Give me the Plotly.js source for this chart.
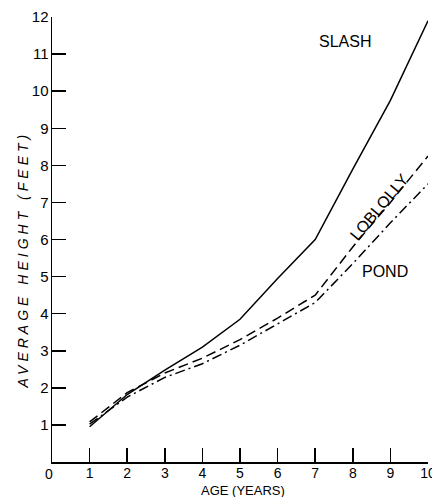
<!DOCTYPE html>
<html>
<head>
<meta charset="utf-8">
<script src="https://cdn.plot.ly/plotly-3.0.1.min.js"></script>
<style>
html,body{margin:0;padding:0;background:#fff;}
#chart{width:432px;height:497px;}
</style>
</head>
<body>
<div id="chart"></div>
<script>
const ages = [1, 2, 3, 4, 5, 6, 7, 8, 9, 10];
const slash = [0.95, 1.82, 2.48, 3.1, 3.85, 4.95, 6.0, 7.9, 9.75, 11.9];
const loblolly = [1.08, 1.87, 2.4, 2.8, 3.3, 3.88, 4.5, 5.8, 7.0, 8.25];
const pond = [1.02, 1.75, 2.28, 2.65, 3.15, 3.72, 4.3, 5.35, 6.45, 7.5];
const xTicks = [1, 2, 3, 4, 5, 6, 7, 8, 9, 10];
const yTicks = [1, 2, 3, 4, 5, 6, 7, 8, 9, 10, 11, 12];
const seriesNames = ['SLASH', 'LOBLOLLY', 'POND'];
const xTitle = 'AGE (YEARS)';
const yTitle = 'AVERAGE HEIGHT (FEET)';

const FONT = '"Liberation Sans Narrow", "Liberation Sans", Arial, sans-serif';

const traces = [
  {x: ages, y: slash, name: seriesNames[0], mode: 'lines', line: {color: '#000', width: 1.5}},
  {x: ages, y: loblolly, name: seriesNames[1], mode: 'lines', line: {color: '#000', width: 1.5, dash: '10px,5px'}},
  {x: ages, y: pond, name: seriesNames[2], mode: 'lines', line: {color: '#000', width: 1.5, dash: '10px,4px,2px,4px'}}
];

const layout = {
  width: 432, height: 497,
  margin: {l: 52, r: 4, t: 17, b: 35},
  paper_bgcolor: '#fff', plot_bgcolor: '#fff',
  showlegend: false,
  font: {family: FONT, color: '#000', size: 15},
  xaxis: {
    range: [0, 10], tickvals: xTicks, ticktext: xTicks.map(String),
    ticks: 'inside', ticklen: 14, tickwidth: 1.5, tickcolor: '#000',
    showline: true, linecolor: '#000', linewidth: 1.5,
    showgrid: false, zeroline: false, ticklabeloverflow: 'allow',
    ticklabelstandoff: -2,
    tickfont: {family: FONT, size: 14}
  },
  yaxis: {
    range: [0, 12], tickvals: yTicks, ticktext: yTicks.map(String),
    ticks: 'inside', ticklen: 14, tickwidth: 1.5, tickcolor: '#000',
    showline: true, linecolor: '#000', linewidth: 1.5,
    showgrid: false, zeroline: false, ticklabeloverflow: 'allow',
    ticklabelstandoff: -1,
    tickfont: {family: FONT, size: 15}
  },
  annotations: [
    {x: -0.024, y: 0, xref: 'paper', yref: 'paper', text: '0', showarrow: false, yanchor: 'top', yshift: -2, font: {family: FONT, size: 14}},
    {x: 0.508, y: 0, xref: 'paper', yref: 'paper', text: xTitle, showarrow: false, yanchor: 'middle', yshift: -28, font: {family: FONT, size: 13}},
    {x: -0.105, y: 0.454, xref: 'paper', yref: 'paper', text: yTitle, showarrow: false, textangle: -90, font: {family: FONT, size: 14, style: 'italic'}},
    {x: 7.79, y: 11.33, xref: 'x', yref: 'y', text: seriesNames[0], showarrow: false, font: {family: FONT, size: 16}},
    {x: 8.72, y: 6.88, xref: 'x', yref: 'y', text: seriesNames[1], showarrow: false, textangle: -50, font: {family: FONT, size: 16}},
    {x: 8.86, y: 5.15, xref: 'x', yref: 'y', text: seriesNames[2], showarrow: false, font: {family: FONT, size: 16}}
  ]
};

Plotly.newPlot('chart', traces, layout, {displayModeBar: false, staticPlot: true}).then(function () {
  document.querySelectorAll('.annotation-text').forEach(function (el) {
    if (el.textContent === yTitle) el.style.letterSpacing = '4px';
  });
});
</script>
</body>
</html>
